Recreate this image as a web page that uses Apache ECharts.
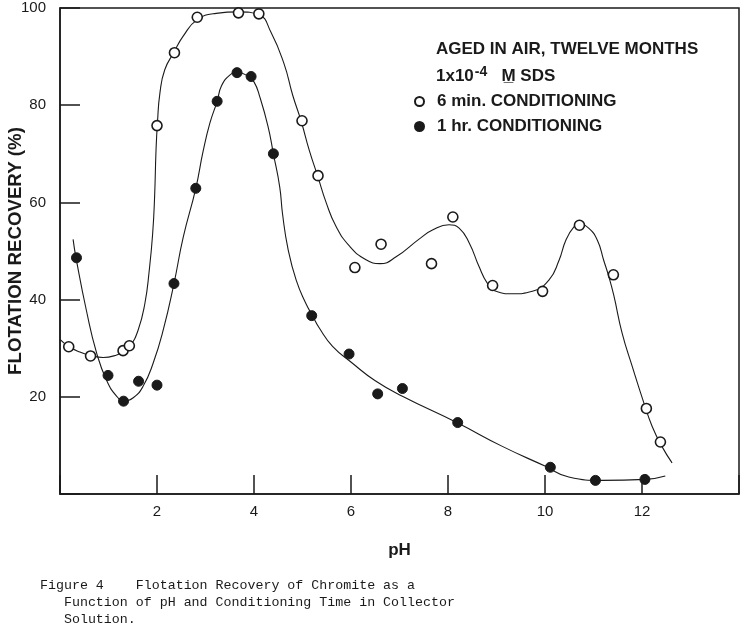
<!DOCTYPE html>
<html>
<head>
<meta charset="utf-8">
<script src="https://cdn.jsdelivr.net/npm/echarts@6/dist/echarts.min.js"></script>
<style>
html,body{margin:0;padding:0;background:#fff;}
#chart{width:746px;height:632px;}
</style>
</head>
<body>
<div id="chart"></div>
<script>
// ---- data ----
const xTicks = [0, 2, 4, 6, 8, 10, 12, 14];
const yTicks = [0, 20, 40, 60, 80, 100];

// 6 min. conditioning (open circles): [pH, recovery %]
const sixMinPoints = [
  [0.18, 30.3], [0.63, 28.4], [1.30, 29.5], [1.43, 30.5], [2.00, 75.8],
  [2.36, 90.8], [2.83, 98.1], [3.68, 99.0], [4.10, 98.8], [4.99, 76.8],
  [5.32, 65.5], [6.08, 46.6], [6.62, 51.4], [7.66, 47.4], [8.10, 57.0],
  [8.92, 42.9], [9.95, 41.7], [10.71, 55.3], [11.41, 45.1], [12.09, 17.6],
  [12.38, 10.7]
];
// 1 hr. conditioning (filled circles)
const oneHrPoints = [
  [0.34, 48.6], [0.99, 24.4], [1.31, 19.1], [1.62, 23.2], [2.00, 22.4],
  [2.35, 43.3], [2.80, 62.9], [3.24, 80.8], [3.65, 86.7], [3.94, 85.9],
  [4.40, 70.0], [5.19, 36.7], [5.96, 28.8], [6.55, 20.6], [7.06, 21.7],
  [8.20, 14.7], [10.11, 5.5], [11.04, 2.8], [12.06, 3.0]
];
// hand-drawn fitted curves
const sixMinCurve = [
  [0.00, 31.8], [0.17, 30.4], [0.41, 29.2], [0.63, 28.5], [0.89, 28.1],
  [1.17, 28.6], [1.30, 29.3], [1.44, 30.4], [1.61, 33.7], [1.75, 39.2],
  [1.84, 46.0], [1.91, 53.5], [1.95, 61.0], [1.98, 70.8], [2.01, 76.5],
  [2.06, 82.5], [2.16, 87.3], [2.35, 90.9], [2.54, 94.2], [2.83, 97.6],
  [3.22, 98.9], [3.68, 99.2], [4.10, 98.6], [4.35, 95.0], [4.62, 88.5],
  [4.80, 82.0], [4.97, 76.8], [5.14, 70.7], [5.31, 65.5], [5.49, 59.9],
  [5.69, 55.1], [5.97, 51.0], [6.31, 48.2], [6.60, 47.4], [6.93, 48.8],
  [7.41, 52.5], [7.68, 54.3], [8.02, 55.4], [8.23, 54.7], [8.44, 51.6],
  [8.64, 46.8], [8.81, 43.4], [8.99, 41.7], [9.33, 41.2], [9.74, 41.7],
  [10.08, 44.0], [10.29, 48.1], [10.43, 52.2], [10.60, 55.0], [10.71, 55.5],
  [10.90, 54.7], [11.08, 52.2], [11.21, 48.1], [11.32, 44.6], [11.42, 40.8],
  [11.59, 33.1], [11.80, 26.2], [12.04, 18.7], [12.21, 13.9], [12.41, 9.8],
  [12.62, 6.4]
];
const oneHrCurve = [
  [0.27, 52.4], [0.33, 48.6], [0.55, 37.5], [0.75, 29.2], [0.96, 23.4],
  [1.17, 20.1], [1.32, 19.2], [1.51, 19.8], [1.71, 22.1], [1.92, 26.9],
  [2.13, 33.8], [2.35, 43.3], [2.54, 52.8], [2.80, 62.9], [2.95, 70.5],
  [3.09, 76.3], [3.24, 80.8], [3.33, 84.0], [3.50, 86.2], [3.65, 86.8],
  [3.87, 86.0], [4.00, 84.8], [4.12, 81.7], [4.29, 75.6], [4.40, 70.0],
  [4.53, 63.2], [4.59, 57.5], [4.70, 50.5], [4.87, 44.0], [5.07, 39.2],
  [5.20, 36.8], [5.35, 34.1], [5.62, 30.4], [6.03, 26.9], [6.50, 23.3],
  [7.06, 20.1], [8.20, 14.6], [9.12, 9.8], [10.01, 5.7], [10.49, 3.5],
  [11.18, 2.8], [12.07, 3.0], [12.48, 3.7]
];

const seriesNames = ['6 min. CONDITIONING', '1 hr. CONDITIONING'];
const ink = '#1a1a1a';
const sans = '"Liberation Sans", Arial, sans-serif';

const chart = echarts.init(document.getElementById('chart'));
chart.setOption({
  backgroundColor: '#fff',
  animation: false,
  title: [
    {
      left: 436, top: 36, padding: 0,
      text: '{a|AGED IN AIR, TWELVE MONTHS}\n{a|1x10}{sup|-4}{a|   M\u0332 SDS}',
      textStyle: {
        rich: {
          a: { fontFamily: sans, fontWeight: 'bold', fontSize: 17, color: ink, lineHeight: 27 },
          sup: { fontFamily: sans, fontWeight: 'bold', fontSize: 14, color: ink, padding: [0, 0, 9, 1], lineHeight: 27 }
        }
      }
    },
    {
      left: 40, top: 577, padding: 0,
      text: 'Figure 4    Flotation Recovery of Chromite as a\n   Function of pH and Conditioning Time in Collector\n   Solution.',
      textStyle: { fontFamily: '"Liberation Mono", "Courier New", monospace', fontWeight: 'normal', fontSize: 13.3, lineHeight: 17, color: '#1a1a1a' }
    }
  ],
  legend: {
    data: seriesNames,
    orient: 'vertical',
    left: 414, top: 93, padding: 0,
    itemWidth: 9, itemHeight: 9, itemGap: 8,
    icon: 'circle',
    textStyle: { fontFamily: sans, fontWeight: 'bold', fontSize: 17, color: ink, padding: [0, 0, 0, 8] }
  },
  grid: {
    left: 60, right: 7, top: 8, bottom: 138,
    outerBoundsMode: 'none', containLabel: false,
    show: true, borderColor: ink, borderWidth: 1.5
  },
  xAxis: {
    type: 'value', min: xTicks[0], max: xTicks[xTicks.length - 1], interval: 2,
    name: 'pH', nameLocation: 'middle', nameGap: 48, nameMoveOverlap: false,
    nameTextStyle: { fontFamily: sans, fontWeight: 'bold', fontSize: 17, color: ink },
    axisLine: { show: true, lineStyle: { color: ink, width: 1.5 } },
    axisTick: { show: true, inside: true, length: 19, lineStyle: { color: ink, width: 1.5 } },
    axisLabel: {
      margin: 10, fontFamily: sans, fontSize: 15, color: ink,
      formatter: v => (v === xTicks[0] || v === xTicks[xTicks.length - 1]) ? '' : String(v)
    },
    splitLine: { show: false }
  },
  yAxis: {
    type: 'value', min: yTicks[0], max: yTicks[yTicks.length - 1], interval: 20,
    name: 'FLOTATION RECOVERY (%)', nameLocation: 'middle', nameGap: 35, nameMoveOverlap: false,
    nameTextStyle: { fontFamily: sans, fontWeight: 'bold', fontSize: 18.7, color: ink },
    axisLine: { show: true, lineStyle: { color: ink, width: 1.5 } },
    axisTick: { show: true, inside: true, length: 20, lineStyle: { color: ink, width: 1.5 } },
    axisLabel: {
      margin: 14, fontFamily: sans, fontSize: 15, color: ink,
      formatter: v => v === yTicks[0] ? '' : String(v)
    },
    splitLine: { show: false }
  },
  series: [
    {
      type: 'line', data: sixMinCurve, smooth: 0.5, showSymbol: false, symbol: 'none',
      lineStyle: { color: ink, width: 1.1 }, z: 2, silent: true
    },
    {
      type: 'line', data: oneHrCurve, smooth: 0.5, showSymbol: false, symbol: 'none',
      lineStyle: { color: ink, width: 1.1 }, z: 2, silent: true
    },
    {
      name: seriesNames[0], type: 'scatter', data: sixMinPoints, symbol: 'circle', symbolSize: 10,
      itemStyle: { color: '#fff', borderColor: ink, borderWidth: 1.6, opacity: 1 }, z: 5
    },
    {
      name: seriesNames[1], type: 'scatter', data: oneHrPoints, symbol: 'circle', symbolSize: 10,
      itemStyle: { color: ink, borderColor: ink, borderWidth: 1, opacity: 1 }, z: 5
    }
  ]
});
</script>
</body>
</html>
